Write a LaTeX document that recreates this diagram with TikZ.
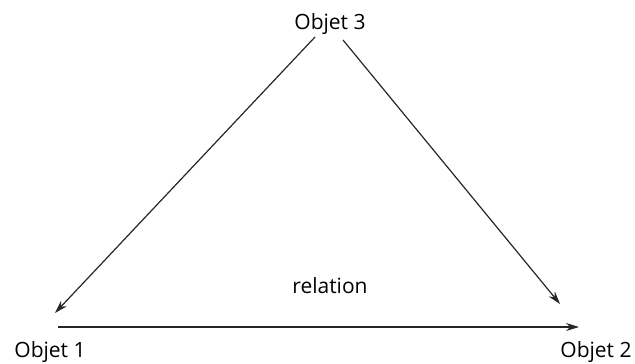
\documentclass[tikz,border=0pt]{standalone}
\usepackage{fontspec}
\setmainfont{Open Sans}
\usetikzlibrary{arrows.meta}
\begin{document}
\begin{tikzpicture}[x=1pt,y=-1pt,
  lbl/.style={font=\fontsize{21}{24}\selectfont, inner sep=0pt, anchor=base},
  arr/.style={-{Stealth[length=13pt,width=8pt]}, line width=1.2pt, black!85}]
\useasboundingbox (0,0) rectangle (635,364);
\node[lbl] (o3) at (330,29) {Objet 3};
\node[lbl] (o1) at (50,357) {Objet 1};
\node[lbl] (o2) at (596,357) {Objet 2};
\node[lbl] (rel) at (330,293) {relation};
\coordinate (s1) at (315,37);
\coordinate (t1) at (55,313);
\coordinate (s2) at (343,40);
\coordinate (t2) at (560,304);
\coordinate (s3) at (58,327);
\coordinate (t3) at (579,327);
\draw[arr] (s1) -- (t1);
\draw[arr] (s2) -- (t2);
\draw[arr] (s3) -- (t3);
\end{tikzpicture}
\end{document}
